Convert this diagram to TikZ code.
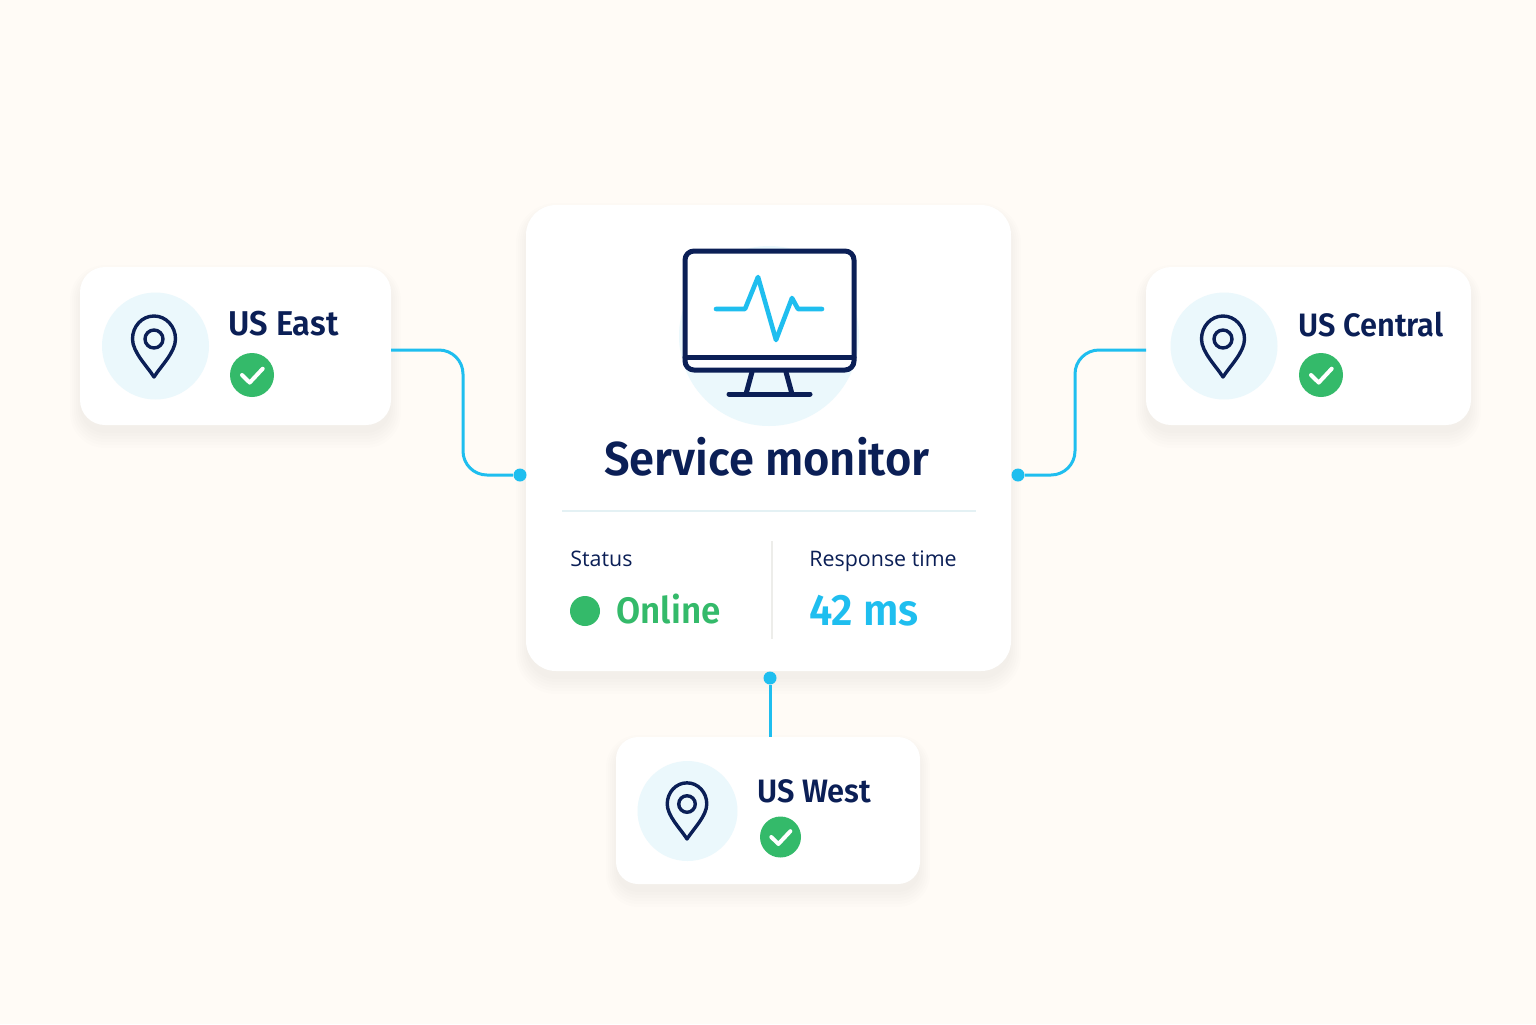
\documentclass[tikz,border=0pt]{standalone}
\usepackage{fontspec}
\setmainfont{Open Sans}
\newfontfamily\headfont[FakeStretch=0.95,Numbers=Lining]{Fira Sans SemiBold}
\usetikzlibrary{calc}
\definecolor{pagebg}{HTML}{FFFBF6}
\definecolor{navy}{HTML}{0B1F56}
\definecolor{skyline}{HTML}{1FBEEF}
\definecolor{okgreen}{HTML}{34BA6A}
\definecolor{paleblue}{HTML}{EBF8FC}
\definecolor{rulepale}{HTML}{E4F1F4}
\definecolor{rulegrey}{HTML}{EDEDEA}
\tikzset{
  card/.style={fill=white,inner sep=0pt,outer sep=0pt,rectangle},
  link/.style={draw=skyline,line width=1.5pt},
  portdot/.style={circle,fill=skyline,minimum size=6.5pt,inner sep=0pt},
  iconline/.style={draw=navy,line width=2.5pt,line cap=round,line join=round},
  txt/.style={anchor=base west,inner sep=0pt,text=navy},
  cardtitle/.style={txt,font=\fontsize{16.2}{18}\selectfont\headfont},
  smalltitle/.style={txt,font=\fontsize{10.7}{13}\selectfont},
  bigvalue/.style={txt,font=\fontsize{18.4}{22}\selectfont\headfont},
  pinmark/.pic={
    \draw[draw=navy,line width=1.7pt,line join=round] (0,38) .. controls (-7,27) and (-21.5,13) .. (-21.5,0)
      .. controls (-21.5,-12.7) and (-12,-23) .. (0,-23) .. controls (12,-23) and (21.5,-12.7) .. (21.5,0)
      .. controls (21.5,13) and (7,27) .. (0,38) -- cycle;
    \draw[draw=navy,line width=1.7pt] (0,0) circle[radius=9];
  },
  checkmark/.pic={
    \draw[white,line width=2pt,line cap=round,line join=round] (-10,0) -- (-2.3,7.6) -- (10.7,-6.3);
  }
}
% soft shadow below a card: x1 y1 x2 y2 radius
\newcommand{\softshadow}[5]{
  \foreach \k in {0,...,5}
    \fill[black,opacity=0.009,rounded corners=#5*0.5pt+\k*1pt]
      (#1-\k*2,#2-\k*2+8) rectangle (#3+\k*2,#4+\k*3+8);
}
\begin{document}
\begin{tikzpicture}[x=0.5pt,y=-0.5pt]
  \fill[pagebg] (0,0) rectangle (1536,1024);
  % Draw shadows
  \softshadow{526}{205}{1011}{671}{30}
  \softshadow{80}{267}{391}{425}{25}
  \softshadow{1146}{267}{1471}{425}{25}
  \softshadow{616}{737}{920}{884}{22}
  % Draw cards
  \node[card,rounded corners=15pt,minimum width=242.5pt,minimum height=233pt] (monitorcard) at (768.5,438) {};
  \node[card,rounded corners=12.5pt,minimum width=155.5pt,minimum height=79pt] (eastcard) at (235.5,346) {};
  \node[card,rounded corners=12.5pt,minimum width=162.5pt,minimum height=79pt] (centralcard) at (1308.5,346) {};
  \node[card,rounded corners=11pt,minimum width=152pt,minimum height=73.5pt] (westcard) at (768,810.5) {};
  % Draw ports and connectors
  \node[portdot] (dotleft) at (520,475) {};
  \node[portdot] (dotright) at (1018,475) {};
  \node[portdot] (dotbottom) at (770,678) {};
  \coordinate (eastport) at (391,350);
  \coordinate (centralport) at (1146,350);
  \coordinate (westport) at (770,737);
  \coordinate (eastbend) at (463,412);
  \coordinate (centralbend) at (1075,412);
  \draw[link,rounded corners=12pt] (eastport) -| (eastbend) |- (dotleft);
  \draw[link,rounded corners=12pt] (centralport) -| (centralbend) |- (dotright);
  \draw[link] (dotbottom) -- (westport);
  % Draw monitor
  \fill[paleblue] (769,336) circle[radius=90];
  \draw[iconline,fill=white,rounded corners=4.5pt] (685,251) rectangle (854,370);
  \draw[iconline] (685,357) -- (854,357);
  \draw[iconline] (752,372) -- (746,394);
  \draw[iconline] (786,372) -- (792,394);
  \draw[iconline] (729,394) -- (810,394);
  \draw[draw=skyline,line width=2.3pt,line cap=round,line join=round]
    (716,309) -- (745,309) -- (758,277) -- (776,340) -- (792,298) -- (798,309) -- (822,309);
  % Draw texts of main card
  \node[txt,anchor=base,font=\fontsize{23.8}{27}\selectfont\headfont] (monitortitle) at (767,475) {Service monitor};
  \draw[rulepale,line width=1pt] (562,511) -- (976,511);
  \draw[rulegrey,line width=1pt] (772,541) -- (772,639);
  \node[smalltitle] (statuslabel) at (570,566) {Status};
  \node[smalltitle] (timelabel) at (809,566) {Response time};
  \node[circle,fill=okgreen,minimum size=15pt,inner sep=0pt] (statusdot) at (585,611) {};
  \node[bigvalue,text=okgreen] (statusvalue) at (616,623) {Online};
  \node[bigvalue,text=skyline,font=\fontsize{22}{26}\selectfont\headfont] (timevalue) at (809,625) {42 ms};
  % Draw US East
  \node[circle,fill=paleblue,minimum size=53.5pt,inner sep=0pt] (eastdisc) at (155.5,346) {};
  \pic at (154,339) {pinmark};
  \node[cardtitle,font=\fontsize{17.2}{20}\selectfont\headfont] (eastname) at (228,335) {US East};
  \node[circle,fill=okgreen,minimum size=22pt,inner sep=0pt] (eastok) at (252,375) {};
  \pic at (252,375) {checkmark};
  % Draw US Central
  \node[circle,fill=paleblue,minimum size=53.5pt,inner sep=0pt] (centraldisc) at (1224,346) {};
  \pic at (1223,339) {pinmark};
  \node[cardtitle] (centralname) at (1298,336) {US Central};
  \node[circle,fill=okgreen,minimum size=22pt,inner sep=0pt] (centralok) at (1321,375) {};
  \pic at (1321,375) {checkmark};
  % Draw US West
  \node[circle,fill=paleblue,minimum size=50pt,inner sep=0pt] (westdisc) at (687.5,811) {};
  \pic[scale=0.92] at (687,804) {pinmark};
  \node[cardtitle] (westname) at (757,802) {US West};
  \node[circle,fill=okgreen,minimum size=20.5pt,inner sep=0pt] (westok) at (780.5,837) {};
  \pic[scale=0.92] at (780.5,837) {checkmark};
\end{tikzpicture}
\end{document}
